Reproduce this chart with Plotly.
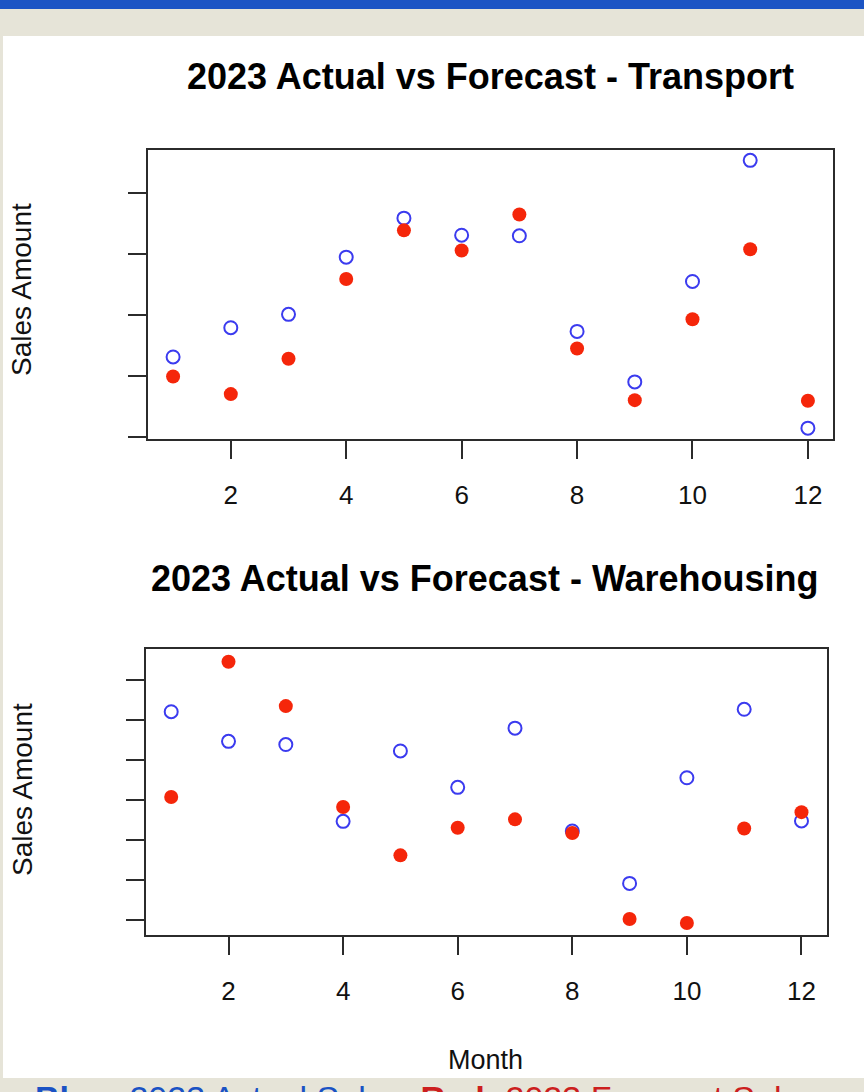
import plotly.graph_objects as go

W, H = 864, 1092

months = list(range(1, 13))
x_ticks = [2, 4, 6, 8, 10, 12]

# Transport (arbitrary units; y tick labels are not shown in the original)
transport_actual = [1.31, 1.79, 2.01, 2.95, 3.59, 3.31, 3.30, 1.73, 0.90, 2.55, 4.54, 0.14]
transport_forecast = [0.99, 0.70, 1.28, 2.59, 3.39, 3.06, 3.65, 1.45, 0.60, 1.93, 3.08, 0.59]
transport_yticks = [0, 1, 2, 3, 4]

# Warehousing
warehouse_actual = [5.21, 4.47, 4.39, 2.47, 4.23, 3.32, 4.80, 2.23, 0.92, 3.56, 5.27, 2.48]
warehouse_forecast = [3.08, 6.46, 5.35, 2.83, 1.62, 2.31, 2.52, 2.18, 0.03, -0.07, 2.29, 2.70]
warehouse_yticks = [0, 1, 2, 3, 4, 5, 6]

titles = ["2023 Actual vs Forecast - Transport", "2023 Actual vs Forecast - Warehousing"]
y_label = "Sales Amount"
x_label = "Month"

BLUE = "#3b3bef"
RED = "#f5260a"
FONT = "Liberation Sans, Arial, sans-serif"

def px_x(p):
    return p / W

def px_y(p):
    return 1 - p / H

fig = go.Figure()

# Actual (blue, open) then forecast (red, filled)
fig.add_trace(go.Scatter(x=months, y=transport_actual, mode="markers", xaxis="x", yaxis="y",
                         marker=dict(symbol="circle-open", size=13, color=BLUE, line=dict(width=2, color=BLUE)),
                         showlegend=False))
fig.add_trace(go.Scatter(x=months, y=transport_forecast, mode="markers", xaxis="x", yaxis="y",
                         marker=dict(symbol="circle", size=14, color=RED),
                         showlegend=False))
fig.add_trace(go.Scatter(x=months, y=warehouse_actual, mode="markers", xaxis="x2", yaxis="y2",
                         marker=dict(symbol="circle-open", size=13, color=BLUE, line=dict(width=2, color=BLUE)),
                         showlegend=False))
fig.add_trace(go.Scatter(x=months, y=warehouse_forecast, mode="markers", xaxis="x2", yaxis="y2",
                         marker=dict(symbol="circle", size=14, color=RED),
                         showlegend=False))

axis_common = dict(showline=True, linecolor="#2b2b2b", linewidth=2, mirror=True,
                   showgrid=False, zeroline=False, ticks="outside", ticklen=18,
                   tickwidth=2, tickcolor="#2b2b2b")

fig.update_layout(
    width=W, height=H,
    margin=dict(l=0, r=0, t=0, b=0),
    paper_bgcolor="#e6e4d8",
    plot_bgcolor="white",
    font=dict(family=FONT, color="black"),
    xaxis=dict(domain=[px_x(147.7), px_x(833.3)], range=[0.56, 12.44], anchor="y",
               tickvals=x_ticks, ticktext=[str(v) for v in x_ticks],
               tickfont=dict(size=26, color="#111"), ticklabelstandoff=14, **axis_common),
    yaxis=dict(domain=[px_y(439), px_y(150)], range=[-0.038, 4.71], anchor="x",
               tickvals=transport_yticks, showticklabels=False, **axis_common),
    xaxis2=dict(domain=[px_x(146), px_x(826.7)], range=[0.56, 12.44], anchor="y2",
                tickvals=x_ticks, ticktext=[str(v) for v in x_ticks],
                tickfont=dict(size=26, color="#111"), ticklabelstandoff=14, **axis_common),
    yaxis2=dict(domain=[px_y(935), px_y(649.3)], range=[-0.37, 6.77], anchor="x2",
                tickvals=warehouse_yticks, showticklabels=False, **axis_common),
)

# Page decoration: top blue bar and white panel
fig.add_shape(type="rect", xref="paper", yref="paper", x0=0, x1=1, y0=px_y(9), y1=1,
              fillcolor="#1c54c4", line=dict(width=0), layer="below")
fig.add_shape(type="rect", xref="paper", yref="paper", x0=px_x(3), x1=1, y0=px_y(1078), y1=px_y(36),
              fillcolor="white", line=dict(width=0), layer="below")

ann = []
ann.append(dict(text=f"<b>{titles[0]}</b>", x=px_x(490), y=px_y(77), xref="paper", yref="paper",
                xanchor="center", yanchor="middle", showarrow=False, font=dict(size=36, color="black")))
ann.append(dict(text=f"<b>{titles[1]}</b>", x=px_x(485), y=px_y(578), xref="paper", yref="paper",
                xanchor="center", yanchor="middle", showarrow=False, font=dict(size=36, color="black")))
for cy in (290, 790):
    ann.append(dict(text=y_label, x=px_x(22), y=px_y(cy), xref="paper", yref="paper", textangle=-90,
                    xanchor="center", yanchor="middle", showarrow=False, font=dict(size=28, color="#111")))
ann.append(dict(text=x_label, x=px_x(485), y=px_y(1060), xref="paper", yref="paper",
                xanchor="center", yanchor="middle", showarrow=False, font=dict(size=27, color="#111")))
ann.append(dict(text="<b>Blue:</b> 2023 Actual Sales, <span style='color:#cc1f1f'><b>Red:</b> 2023 Forecast Sales</span>",
                x=px_x(33), y=px_y(1098), xref="paper", yref="paper",
                xanchor="left", yanchor="middle", showarrow=False, font=dict(size=34, color="#1a52c4")))
fig.update_layout(annotations=ann)

fig.write_html("out.html", config={"displayModeBar": False},
               post_script="document.body.style.margin='0';document.body.style.padding='0';document.body.style.overflow='hidden';")
